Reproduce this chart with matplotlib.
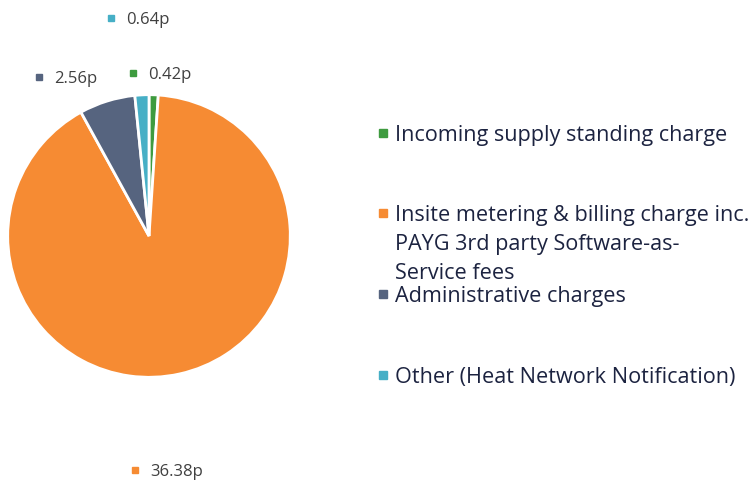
import matplotlib
matplotlib.use("Agg")
import matplotlib.pyplot as plt
from matplotlib.patches import Rectangle

plt.rcParams['font.family'] = ['Open Sans', 'DejaVu Sans']

categories = [
    "Incoming supply standing charge",
    "Insite metering & billing charge inc.\nPAYG 3rd party Software-as-\nService fees",
    "Administrative charges",
    "Other (Heat Network Notification)",
]
values = [0.42, 36.38, 2.56, 0.64]
value_labels = ["0.42p", "36.38p", "2.56p", "0.64p"]
colors = ["#3E9B3F", "#F68B33", "#56647F", "#46AFC6"]

fig = plt.figure(figsize=(7.48, 4.8), dpi=100)
ax = fig.add_axes([7 / 748, 102 / 480, 284 / 748, 284 / 480])
ax.pie(values, colors=colors, startangle=90, counterclock=False,
       wedgeprops=dict(edgecolor="white", linewidth=2))
ax.set_xlim(-1.005, 1.005)
ax.set_ylim(-1.005, 1.005)
ax.set_aspect("equal")

# value labels (pixel positions of the marker square)
label_pos = [(133, 73), (135, 470), (39, 77), (111, 18)]
for (x, y), txt, c in zip(label_pos, value_labels, colors):
    fig.add_artist(Rectangle(((x - 3) / 748, 1 - (y + 3) / 480), 6 / 748, 6 / 480,
                             transform=fig.transFigure, color=c))
    fig.text((x + 15) / 748, 1 - (y + 2) / 480, txt, fontsize=12, color="#404040",
             va="center", ha="left")

# legend
legend_y = [133, 213, 294, 375]
for y, txt, c in zip(legend_y, categories, colors):
    fig.add_artist(Rectangle((379 / 748, 1 - (y + 4) / 480), 8 / 748, 8 / 480,
                             transform=fig.transFigure, color=c))
    fig.text(395 / 748, 1 - (y - 8) / 480, txt, fontsize=15.6, color="#1C2340",
             va="top", ha="left", linespacing=1.5)

fig.savefig("out.png", dpi=100)
